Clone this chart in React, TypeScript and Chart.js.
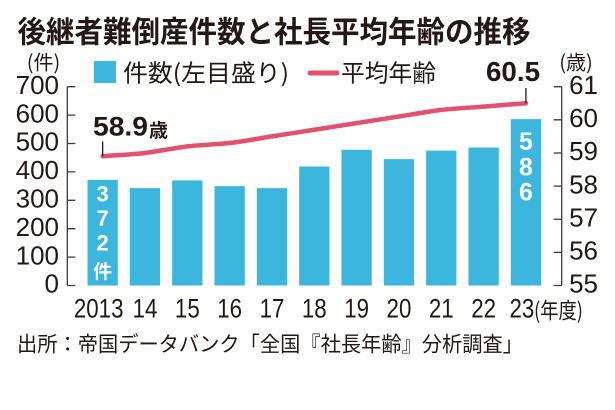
import React, { useEffect, useRef } from "react";
import { Chart, registerables } from "chart.js";

Chart.register(...registerables);

const categories = ["2013", "14", "15", "16", "17", "18", "19", "20", "21", "22", "23"];
const bankruptcies = [372, 343, 370, 350, 343, 419, 478, 445, 475, 486, 586];
const avgAge = [58.9, 59.0, 59.2, 59.3, 59.5, 59.7, 59.9, 60.1, 60.3, 60.4, 60.5];
const leftTicks = [0, 100, 200, 300, 400, 500, 600, 700];
const rightTicks = [55, 56, 57, 58, 59, 60, 61];

const TITLE = "後継者難倒産件数と社長平均年齢の推移";
const SOURCE = "出所：帝国データバンク「全国『社長年齢』分析調査」";
const LEGEND_BAR = "件数(左目盛り)";
const LEGEND_LINE = "平均年齢";

const INK = "#231815";
const BAR = "#3cb6dc";
const LINE = "#e2516e";
const CJK = "'Noto Sans CJK JP', 'Noto Sans', sans-serif";
const NUM = "'Liberation Sans', Arial, sans-serif";

function fitText(
  ctx: CanvasRenderingContext2D,
  text: string,
  x: number,
  y: number,
  font: string,
  width: number,
  align: CanvasTextAlign,
  color: string
) {
  ctx.save();
  ctx.font = font;
  ctx.fillStyle = color;
  ctx.textBaseline = "middle";
  ctx.textAlign = align;
  const w = ctx.measureText(text).width || 1;
  ctx.translate(x, y);
  ctx.scale(width / w, 1);
  ctx.fillText(text, 0, 0);
  ctx.restore();
}

function plainText(
  ctx: CanvasRenderingContext2D,
  text: string,
  x: number,
  y: number,
  font: string,
  align: CanvasTextAlign,
  color: string
) {
  ctx.save();
  ctx.font = font;
  ctx.fillStyle = color;
  ctx.textBaseline = "middle";
  ctx.textAlign = align;
  ctx.fillText(text, x, y);
  ctx.restore();
}

const decorPlugin = {
  id: "decor",
  beforeDraw(chart: any) {
    const ctx = chart.ctx as CanvasRenderingContext2D;
    ctx.save();
    ctx.fillStyle = "#ffffff";
    ctx.fillRect(0, 0, chart.width, chart.height);
    ctx.restore();
  },
  afterDraw(chart: any) {
    const ctx = chart.ctx as CanvasRenderingContext2D;
    const ys = chart.scales.y;
    const y1 = chart.scales.y1;
    const xs = chart.scales.x;
    const lx = 67.3;
    const rx = 561.7;

    // axes
    ctx.save();
    ctx.strokeStyle = "#3a3a3a";
    ctx.lineWidth = 1.3;
    ctx.beginPath();
    ctx.moveTo(lx, ys.getPixelForValue(leftTicks[leftTicks.length - 1]));
    ctx.lineTo(lx, ys.getPixelForValue(leftTicks[0]));
    leftTicks.forEach((v) => {
      const p = ys.getPixelForValue(v);
      ctx.moveTo(lx, p);
      ctx.lineTo(lx + 8, p);
    });
    ctx.moveTo(rx, y1.getPixelForValue(rightTicks[rightTicks.length - 1]));
    ctx.lineTo(rx, y1.getPixelForValue(rightTicks[0]));
    rightTicks.forEach((v) => {
      const p = y1.getPixelForValue(v);
      ctx.moveTo(rx, p);
      ctx.lineTo(rx - 8, p);
    });
    ctx.stroke();
    ctx.restore();

    // x category labels (condensed, positioned by the category scale)
    const n = categories.length;
    categories.forEach((c, i) => {
      const px = xs.getPixelForValue(i) - (i === 0 || i === n - 1 ? 4 : 0);
      fitText(ctx, c, px, 310, `27px ${NUM}`, c.length * 12.4, "center", INK);
    });
    fitText(ctx, "(年度)", 534, 310, `22px ${CJK}`, 49, "left", INK);

    // title
    fitText(ctx, TITLE, 17.5, 31, `bold 30px ${CJK}`, 513, "left", INK);

    // units
    plainText(ctx, "(件)", 43.5, 62, `20px ${CJK}`, "center", INK);
    plainText(ctx, "(歳)", 576, 62, `20px ${CJK}`, "center", INK);

    // legend
    ctx.save();
    ctx.fillStyle = BAR;
    ctx.fillRect(94, 61, 22, 22);
    ctx.restore();
    fitText(ctx, LEGEND_BAR, 123, 72.5, `24px ${CJK}`, 166, "left", INK);
    ctx.save();
    ctx.strokeStyle = LINE;
    ctx.lineWidth = 5;
    ctx.lineCap = "round";
    ctx.beginPath();
    ctx.moveTo(310, 73);
    ctx.lineTo(337, 73);
    ctx.stroke();
    ctx.restore();
    fitText(ctx, LEGEND_LINE, 341, 72.5, `24px ${CJK}`, 95, "left", INK);

    // annotations for first / last age
    const firstX = xs.getPixelForValue(0);
    const lastX = xs.getPixelForValue(n - 1);
    const firstY = y1.getPixelForValue(avgAge[0]);
    const lastY = y1.getPixelForValue(avgAge[avgAge.length - 1]);
    ctx.save();
    ctx.strokeStyle = INK;
    ctx.lineWidth = 1.3;
    ctx.beginPath();
    ctx.moveTo(firstX, 141.5);
    ctx.lineTo(firstX, firstY);
    ctx.moveTo(lastX, 88);
    ctx.lineTo(lastX, lastY);
    ctx.stroke();
    ctx.restore();
    fitText(ctx, avgAge[0].toFixed(1), 93, 128, `bold 27px ${NUM}`, 55, "left", INK);
    plainText(ctx, "歳", 149, 130, `bold 19px ${CJK}`, "left", INK);
    fitText(ctx, avgAge[avgAge.length - 1].toFixed(1), 486, 73.5, `bold 28px ${NUM}`, 54, "left", INK);

    // vertical labels inside bars
    const firstDigits = String(bankruptcies[0]).split("");
    const firstCenters = [195.5, 219.8, 244.5];
    firstDigits.forEach((d, i) => {
      plainText(ctx, d, firstX, firstCenters[i], `bold 22px ${NUM}`, "center", "#ffffff");
    });
    plainText(ctx, "件", firstX, 271, `bold 19px ${CJK}`, "center", "#ffffff");
    const lastDigits = String(bankruptcies[bankruptcies.length - 1]).split("");
    const lastCenters = [143, 168.5, 193.5];
    lastDigits.forEach((d, i) => {
      plainText(ctx, d, lastX, lastCenters[i], `bold 25px ${NUM}`, "center", "#ffffff");
    });

    // source
    fitText(ctx, SOURCE, 17, 343.5, `21px ${CJK}`, 506, "left", INK);
  },
};

export default function App() {
  const ref = useRef<HTMLCanvasElement | null>(null);

  useEffect(() => {
    if (!ref.current) return;
    const chart = new Chart(ref.current, {
      type: "bar",
      data: {
        labels: categories,
        datasets: [
          {
            type: "line",
            label: LEGEND_LINE,
            data: avgAge,
            yAxisID: "y1",
            borderColor: LINE,
            borderWidth: 4.5,
            pointRadius: 0,
            tension: 0.25,
            borderCapStyle: "round",
            order: 0,
          } as any,
          {
            type: "bar",
            label: LEGEND_BAR,
            data: bankruptcies,
            yAxisID: "y",
            backgroundColor: BAR,
            borderWidth: 0,
            barPercentage: 0.716,
            categoryPercentage: 1,
            order: 1,
          } as any,
        ],
      },
      options: {
        responsive: false,
        animation: false,
        devicePixelRatio: 2,
        layout: { padding: { top: 86.7, left: 0, right: 0, bottom: 0 } },
        plugins: {
          legend: { display: false },
          title: { display: false },
          tooltip: { enabled: false },
        },
        scales: {
          x: {
            offset: true,
            grid: { display: false, drawTicks: false },
            border: { display: false },
            ticks: { display: false },
            afterFit: (s: any) => {
              s.height = 410 - 285.5;
            },
          },
          y: {
            position: "left",
            min: 0,
            max: 700,
            grid: { display: false, drawTicks: false },
            border: { display: false },
            ticks: {
              stepSize: 100,
              autoSkip: false,
              color: INK,
              font: { family: NUM, size: 26 },
              padding: 22.5,
            },
            afterFit: (s: any) => {
              s.width = 81.5;
            },
          },
          y1: {
            position: "right",
            min: 55,
            max: 61,
            grid: { display: false, drawTicks: false },
            border: { display: false },
            ticks: {
              stepSize: 1,
              autoSkip: false,
              color: INK,
              font: { family: NUM, size: 26 },
              padding: 22,
            },
            afterFit: (s: any) => {
              s.width = 615 - 547.1;
            },
          },
        },
      } as any,
      plugins: [decorPlugin],
    });
    return () => chart.destroy();
  }, []);

  return (
    <div style={{ position: "fixed", left: 0, top: 0, width: 615, height: 410, background: "#fff" }}>
      <canvas ref={ref} width={615} height={410} style={{ width: 615, height: 410, display: "block" }} />
    </div>
  );
}
